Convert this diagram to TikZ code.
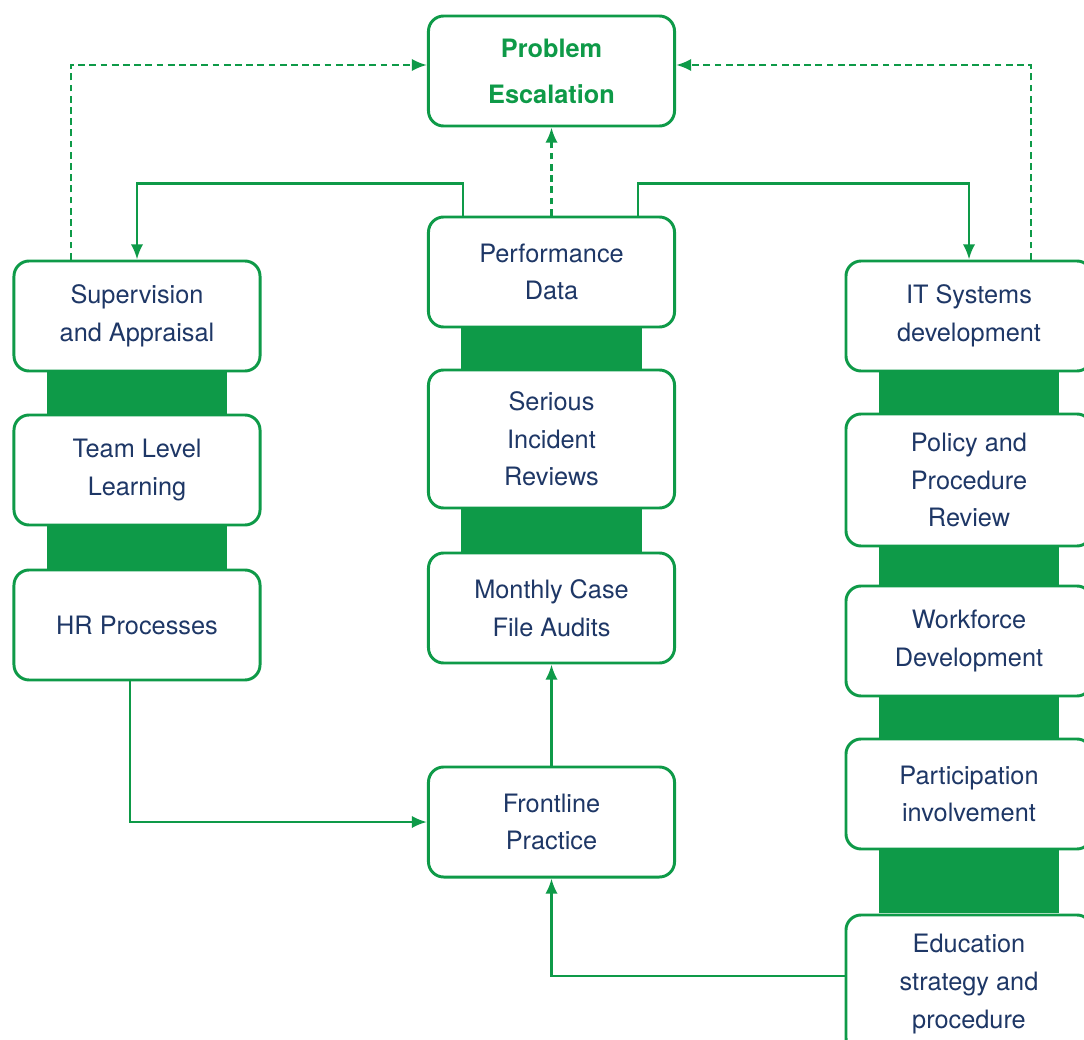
\documentclass[tikz,border=0pt]{standalone}
\usepackage{fontspec}
\setmainfont{TeX Gyre Heros}
\usetikzlibrary{arrows.meta,positioning}
\definecolor{dg}{RGB}{14,154,72}
\definecolor{navy}{RGB}{30,55,102}
\tikzset{
    box/.style =      {rectangle,
                      rounded corners=0.38cm,
                      fill=white,
                      draw=dg,
                      text=navy,
                      line width=2.1pt,
                      align=center,
                      inner sep=2pt,
                      minimum width=6.15cm,
                      minimum height=2.75cm,
                      font=\fontsize{18}{26.7}\selectfont},
    topbox/.style =   {box,
                      text=dg,
                      font=\bfseries\fontsize{18}{32.7}\selectfont},
    tall/.style =     {minimum height=3.45cm},
    barfill/.style =  {fill=dg},
    link/.style =     {draw=dg,
                      line width=1.8pt,
                      ->},
    dashlink/.style = {link,
                      dash pattern=on 1.7mm off 1.1mm},
    >={Latex[length=3.8mm,width=3.1mm]},
    node distance=1cm}

\begin{document}
\begin{tikzpicture}[x=0.025cm,y=-0.025cm]
    \useasboundingbox (0,0) rectangle (1084,1039);
    \clip (0,0) rectangle (1084,1039);

    % middle column
    \node[topbox]   (esc)   at (551.5,71)                       {Problem\\Escalation};
    \node[box]      (perf)  at (551.5,272)                      {Performance\\Data};
    \node[box,tall] (sir)   [below=1cm of perf]                 {Serious\\Incident\\Reviews};
    \node[box]      (mca)   [below=1.05cm of sir]               {Monthly Case\\File Audits};
    \node[box]      (front) [below=2.525cm of mca]              {Frontline\\Practice};

    % left column
    \node[box]      (sup)   at (137,316)                        {Supervision\\and Appraisal};
    \node[box]      (team)  [below=1.025cm of sup]              {Team Level\\Learning};
    \node[box]      (hr)    [below=1.05cm of team]              {HR Processes};

    % right column
    \node[box]      (it)    at (969,316)                        {IT Systems\\development};
    \node[box,minimum height=3.3cm] (pol) [below=1cm of it]     {Policy and\\Procedure\\Review};
    \node[box]      (wfd)   [below=0.925cm of pol]              {Workforce\\Development};
    \node[box]      (par)   [below=1cm of wfd]                  {Participation\\involvement};
    \node[box,tall] (edu)   [below=1.575cm of par]              {Education\\strategy and\\procedure};

    % bars between stacked boxes
    \foreach \a/\b in {sup/team,team/hr,perf/sir,sir/mca,it/pol,pol/wfd,wfd/par,par/edu}
        \fill[barfill] ([xshift=-2.26cm]\a.south) rectangle ([xshift=2.26cm]\b.north);

    % escalation
    \draw[dashlink] ([xshift=-1.65cm]sup.north) |- ([yshift=0.15cm]esc.west);
    \draw[dashlink] ([xshift=1.55cm]it.north) |- ([yshift=0.15cm]esc.east);
    \draw[dashlink] (perf.north) -- (esc.south);

    % data flows
    \draw[link] ([xshift=-2.21cm]perf.north) -- ++(0,0.8cm) -| (sup.north);
    \draw[link] ([xshift=2.16cm]perf.north) -- ++(0,0.8cm) -| (it.north);
    \draw[link] ([xshift=-0.175cm]hr.south) |- (front.west);
    \draw[link] (front.north) -- (mca.south);
    \draw[link] ([yshift=0.2cm]edu.west) -| (front.south);
\end{tikzpicture}
\end{document}
